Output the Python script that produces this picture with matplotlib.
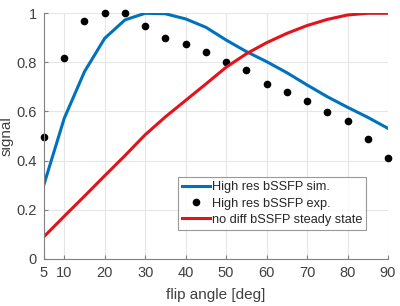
import numpy as np
import matplotlib
matplotlib.use('Agg')
import matplotlib.pyplot as plt

# flip angles sampled every 5 deg
angles = [5, 10, 15, 20, 25, 30, 35, 40, 45, 50, 55, 60, 65, 70, 75, 80, 85, 90]

# simulated high-res bSSFP signal
sim = [0.303, 0.572, 0.762, 0.898, 0.973, 1.0, 0.998, 0.977, 0.943, 0.891,
       0.844, 0.803, 0.758, 0.708, 0.66, 0.617, 0.576, 0.531]

# experimental points
exp_sig = [0.497, 0.818, 0.97, 1.0, 1.0, 0.948, 0.90, 0.876, 0.844, 0.80,
           0.769, 0.71, 0.68, 0.643, 0.599, 0.56, 0.487, 0.409]

# steady state without diffusion
nodiff = [0.09, 0.173, 0.255, 0.338, 0.42, 0.505, 0.578, 0.645, 0.712, 0.78,
          0.835, 0.88, 0.918, 0.95, 0.975, 0.993, 1.0, 1.0]

xticks = [5, 10, 20, 30, 40, 50, 60, 70, 80, 90]
yticks = [0, 0.2, 0.4, 0.6, 0.8, 1]

plt.rcParams['font.family'] = ['Liberation Sans', 'DejaVu Sans']
txt = '#404040'

fig = plt.figure(figsize=(4, 3.06), dpi=100)
ax = fig.add_axes([0.11, 0.1546, 0.86, 0.802])

ax.plot(angles, sim, color='#0072BD', lw=2.2, label='High res bSSFP sim.')
ax.plot(angles, exp_sig, 'o', color='black', ms=4.5, clip_on=False,
        label='High res bSSFP exp.')
ax.plot(angles, nodiff, color='#E3121B', lw=2.2, label='no diff bSSFP steady state')

ax.set_xlim(5, 90)
ax.set_ylim(0, 1)
ax.set_xticks(xticks)
ax.set_yticks(yticks)
ax.set_yticklabels(['0', '0.2', '0.4', '0.6', '0.8', '1'])
ax.grid(True, color='#e6e6e6', lw=0.8)
ax.set_axisbelow(True)
for s in ['top', 'right']:
    ax.spines[s].set_visible(False)
for s in ['left', 'bottom']:
    ax.spines[s].set_color('#808080')
ax.tick_params(direction='in', length=3, colors='#808080', labelcolor=txt,
               labelsize=10.5, pad=5)

ax.set_xlabel('flip angle [deg]', color=txt, fontsize=11, labelpad=6)
ax.set_ylabel('signal', color=txt, fontsize=11, labelpad=2)

leg = ax.legend(loc='upper left', bbox_to_anchor=(0.3905, 0.331), fontsize=9.2,
                frameon=True, fancybox=False, handlelength=2.2, handletextpad=0.1,
                borderpad=0.3, labelspacing=0.33, borderaxespad=0)
leg.get_frame().set_edgecolor('#808080')
leg.get_frame().set_linewidth(0.8)
for t in leg.get_texts():
    t.set_color('#262626')

fig.savefig('out.png', dpi=100)
